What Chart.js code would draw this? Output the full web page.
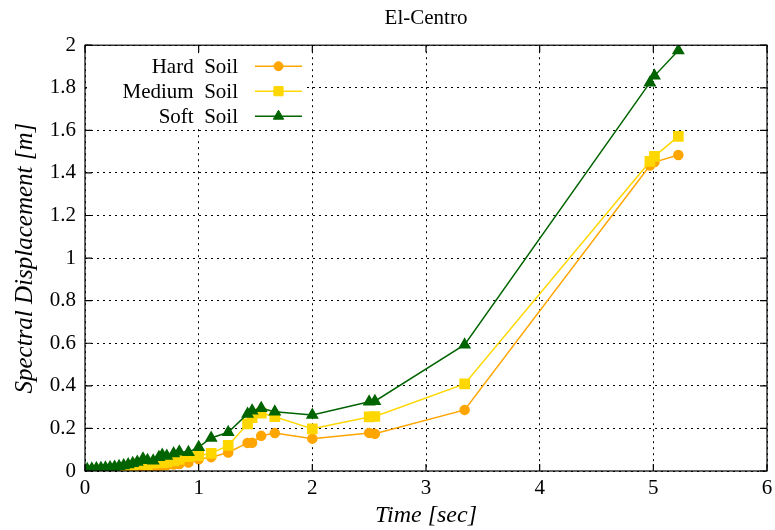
<!DOCTYPE html>
<html>
<head>
<meta charset="utf-8">
<script src="https://cdn.jsdelivr.net/npm/chart.js@4"></script>
<style>
  html, body { margin: 0; padding: 0; background: #fff; }
  #wrap { width: 775px; height: 530px; }
</style>
</head>
<body>
<div id="wrap"><canvas id="chart" width="775" height="530"></canvas></div>
<script>
// periods [sec] shared by the three soil types
const periods = [0.02, 0.06, 0.10, 0.14, 0.18, 0.22, 0.26, 0.30, 0.34, 0.38, 0.42, 0.46,
  0.51, 0.55, 0.60, 0.65, 0.68, 0.72, 0.78, 0.83, 0.91, 1.00, 1.11, 1.26, 1.43, 1.47,
  1.55, 1.67, 2.00, 2.50, 2.55, 3.34, 4.97, 5.01, 5.22];

// spectral displacement [m]
const hardSoil = [0.001, 0.002, 0.003, 0.004, 0.005, 0.006, 0.007, 0.009, 0.011, 0.013, 0.016, 0.020,
  0.022, 0.020, 0.021, 0.024, 0.025, 0.027, 0.030, 0.033, 0.040, 0.055, 0.065, 0.087, 0.132, 0.133,
  0.165, 0.178, 0.152, 0.179, 0.175, 0.287, 1.435, 1.451, 1.484];
const mediumSoil = [0.002, 0.003, 0.004, 0.005, 0.006, 0.008, 0.010, 0.012, 0.016, 0.020, 0.025, 0.032,
  0.035, 0.030, 0.037, 0.040, 0.039, 0.042, 0.047, 0.055, 0.067, 0.072, 0.083, 0.120, 0.221, 0.250,
  0.272, 0.255, 0.198, 0.254, 0.256, 0.409, 1.454, 1.478, 1.572];
const softSoil = [0.008, 0.010, 0.012, 0.013, 0.015, 0.017, 0.019, 0.022, 0.026, 0.030, 0.036, 0.042,
  0.058, 0.050, 0.048, 0.065, 0.075, 0.070, 0.082, 0.090, 0.088, 0.112, 0.155, 0.182, 0.268, 0.283,
  0.295, 0.278, 0.263, 0.325, 0.328, 0.593, 1.824, 1.856, 1.975];

const seriesLabels = ['Hard  Soil', 'Medium  Soil', 'Soft  Soil'];
const xTicks = [0, 1, 2, 3, 4, 5, 6];
const yTicks = [0, 0.2, 0.4, 0.6, 0.8, 1, 1.2, 1.4, 1.6, 1.8, 2];

const serif = '"Liberation Serif", "DejaVu Serif", serif';

function toPoints(values) {
  return periods.map((t, i) => ({ x: t, y: values[i] }));
}

// solid frame round the plot area
const framePlugin = {
  id: 'frame',
  afterDraw(chart) {
    const { ctx, chartArea: a } = chart;
    ctx.save();
    ctx.setLineDash([]);
    ctx.strokeStyle = '#000';
    ctx.lineWidth = 1.2;
    ctx.strokeRect(a.left, a.top, a.right - a.left, a.bottom - a.top);
    // inward tick marks, gnuplot style
    const xs = chart.scales.x, ys = chart.scales.y;
    ctx.beginPath();
    xTicks.forEach(v => {
      const px = xs.getPixelForValue(v);
      ctx.moveTo(px, a.bottom); ctx.lineTo(px, a.bottom - 7);
      ctx.moveTo(px, a.top); ctx.lineTo(px, a.top + 7);
    });
    yTicks.forEach(v => {
      const py = ys.getPixelForValue(v);
      ctx.moveTo(a.left, py); ctx.lineTo(a.left + 7, py);
      ctx.moveTo(a.right, py); ctx.lineTo(a.right - 7, py);
    });
    ctx.stroke();
    ctx.restore();
  }
};

// legend with the text on the left and the sample on the right
const keyPlugin = {
  id: 'key',
  afterDraw(chart) {
    const { ctx, chartArea: a } = chart;
    ctx.save();
    ctx.font = '21px ' + serif;
    ctx.textAlign = 'right';
    ctx.textBaseline = 'middle';
    chart.data.datasets.forEach((ds, i) => {
      const y = a.top + 21 + i * 25;
      const textRight = a.left + 153;
      const x0 = a.left + 170, x1 = a.left + 217;
      ctx.fillStyle = '#fff';
      ctx.fillRect(a.left + 2, y - 12, 218, 24);
      ctx.fillStyle = '#000';
      ctx.fillText(ds.label, textRight, y + 1);
      ctx.strokeStyle = ds.borderColor;
      ctx.lineWidth = 1.5;
      ctx.beginPath();
      ctx.moveTo(x0, y); ctx.lineTo(x1, y);
      ctx.stroke();
      ctx.fillStyle = ds.backgroundColor;
      ctx.lineWidth = 1;
      Chart.helpers.drawPoint(ctx, {
        pointStyle: ds.pointStyle,
        radius: ds.pointRadius,
        borderWidth: 1
      }, (x0 + x1) / 2, y);
    });
    ctx.restore();
  }
};

const ctx = document.getElementById('chart').getContext('2d');

new Chart(ctx, {
  type: 'line',
  data: {
    datasets: [
      {
        label: seriesLabels[0],
        data: toPoints(hardSoil),
        borderColor: '#ffa500',
        backgroundColor: '#ffa500',
        pointStyle: 'circle',
        pointRadius: 4.5,
        borderWidth: 1.5,
        order: 3
      },
      {
        label: seriesLabels[1],
        data: toPoints(mediumSoil),
        borderColor: '#ffd700',
        backgroundColor: '#ffd700',
        pointStyle: 'rect',
        pointRadius: 6.5,
        borderWidth: 1.5,
        order: 2
      },
      {
        label: seriesLabels[2],
        data: toPoints(softSoil),
        borderColor: '#006400',
        backgroundColor: '#006400',
        pointStyle: 'triangle',
        pointRadius: 6,
        borderWidth: 1.5,
        order: 1
      }
    ]
  },
  options: {
    responsive: false,
    animation: false,
    layout: { padding: { left: 0, right: 7, top: 0, bottom: 0 } },
    elements: { point: { borderWidth: 1 }, line: { tension: 0 } },
    plugins: {
      legend: { display: false },
      tooltip: { enabled: false },
      title: {
        display: true,
        text: 'El-Centro',
        fullSize: false,
        color: '#000',
        font: { family: serif, size: 21, weight: 'normal' },
        padding: { top: 6, bottom: 14 }
      }
    },
    scales: {
      x: {
        type: 'linear',
        min: 0,
        max: 6,
        afterBuildTicks: s => { s.ticks = xTicks.map(v => ({ value: v })); },
        afterFit: s => { s.height = 59; s.paddingRight = 0; s.paddingLeft = 0; },
        ticks: { color: '#000', font: { family: serif, size: 21 }, padding: 5, callback: v => String(v) },
        grid: { color: '#000', lineWidth: 1, drawTicks: false },
        border: { display: false, dash: [2, 4] },
        title: {
          display: true,
          text: 'Time [sec]',
          color: '#000',
          font: { family: serif, size: 24, style: 'italic' },
          padding: { top: 0, bottom: 0 }
        }
      },
      y: {
        type: 'linear',
        min: 0,
        max: 2,
        afterBuildTicks: s => { s.ticks = yTicks.map(v => ({ value: v })); },
        afterFit: s => { s.width = 85; },
        ticks: { color: '#000', font: { family: serif, size: 21 }, padding: 9, callback: v => String(v) },
        grid: { color: '#000', lineWidth: 1, drawTicks: false },
        border: { display: false, dash: [2, 4] },
        title: {
          display: true,
          text: 'Spectral Displacement [m]',
          color: '#000',
          font: { family: serif, size: 25, style: 'italic' },
          padding: { top: 10, bottom: 2 }
        }
      }
    }
  },
  plugins: [framePlugin, keyPlugin]
});
</script>
</body>
</html>
